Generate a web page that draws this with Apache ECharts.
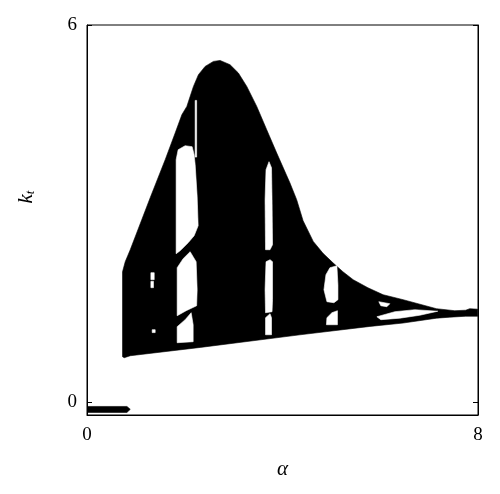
<!DOCTYPE html>
<html>
<head>
<meta charset="utf-8">
<script src="https://cdn.jsdelivr.net/npm/echarts@6/dist/echarts.min.js"></script>
<style>
html,body{margin:0;padding:0;background:#fff;}
#chart{width:500px;height:494px;}
</style>
</head>
<body>
<div id="chart"></div>
<script>
// Axis ticks
const xTicks = [0, 8];
const yTicks = [0, 6];

// Outline of the black (chaotic) region: [alpha, k]
const outline = [
  [0.727,0.727],[0.727,2.078],[0.782,2.237],[0.885,2.428],[1.293,3.254],[1.600,3.859],
  [1.804,4.283],[1.941,4.574],[2.043,4.706],[2.110,4.865],[2.178,5.024],[2.280,5.210],
  [2.417,5.342],[2.586,5.421],[2.723,5.437],[2.927,5.369],[3.097,5.237],[3.269,5.024],
  [3.473,4.706],[3.677,4.335],[3.882,3.965],[4.153,3.488],[4.290,3.223],[4.421,2.890],
  [4.629,2.560],[4.829,2.370],[5.038,2.216],[5.236,2.078],[5.446,1.951],[5.747,1.823],
  [6.059,1.712],[6.468,1.633],[7.150,1.490],[7.524,1.458],
  [7.749,1.466],[7.830,1.490],[7.994,1.482],
  [7.994,1.370],[7.749,1.370],[7.422,1.355],[7.150,1.339],[6.468,1.262],[5.788,1.208],
  [4.357,1.075],[2.315,0.874],[0.885,0.742],[0.762,0.711]
];

// Periodic windows (white holes): [alpha, k]
const holeD1 = [[1.307,2.062],[1.375,2.062],[1.375,1.951],[1.307,1.951]];
const holeD2 = [[1.307,1.925],[1.360,1.925],[1.360,1.824],[1.307,1.824]];
const holeD3 = [[1.334,1.156],[1.395,1.156],[1.395,1.110],[1.334,1.110]];
const holeA1 = [[1.824,3.859],[1.865,4.017],[2.008,4.081],[2.151,4.065],[2.192,3.938],[2.213,3.779],
  [2.254,3.270],[2.274,2.809],[2.192,2.650],[2.070,2.539],[1.906,2.412],[1.824,2.364]];
const holeA0 = [[2.213,4.801],[2.243,4.801],[2.243,3.900],[2.213,3.900]];
const holeA2 = [[1.845,2.141],[1.967,2.285],[2.110,2.396],[2.233,2.237],[2.254,1.792],[2.243,1.537],
  [2.029,1.458],[1.845,1.378]];
const holeA3 = [[1.845,1.204],[2.008,1.315],[2.131,1.426],[2.172,1.235],[2.172,0.965],[1.845,0.949]];
const holeB1 = [[3.663,3.700],[3.724,3.827],[3.775,3.731],[3.786,3.223],[3.796,2.507],[3.745,2.428],
  [3.653,2.428],[3.643,3.223]];
const holeB2 = [[3.663,2.237],[3.745,2.269],[3.796,2.237],[3.796,1.633],[3.786,1.442],[3.653,1.426],[3.643,1.792]];
const holeB3 = [[3.653,1.347],[3.745,1.410],[3.775,1.347],[3.775,1.076],[3.653,1.076]];
const holeC1 = [[4.889,2.030],[4.970,2.141],[5.113,2.173],[5.134,1.871],[5.134,1.633],[5.052,1.585],
  [4.909,1.601],[4.848,1.792]];
const holeC2 = [[4.909,1.347],[5.011,1.426],[5.124,1.458],[5.124,1.235],[4.899,1.235]];
const holeT1 = [[5.971,1.601],[6.196,1.569],[6.135,1.521],[6.012,1.537]];
const holeT2 = [[5.931,1.362],[6.298,1.442],[6.707,1.474],[7.177,1.450],[6.809,1.386],[6.400,1.339],[6.012,1.315]];

// Fixed point (k near 0) for small alpha, drawn as an arrow-like bar
const fixedBar = [[0,-0.064],[0.817,-0.064],[0.885,-0.11],[0.817,-0.159],[0,-0.159]];

const holes = [holeD1,holeD2,holeD3,holeA1,holeA0,holeA2,holeA3,holeB1,holeB2,holeB3,holeC1,holeC2,holeT1,holeT2];

function polySeries(pts, fill){
  return {
    type:'custom', coordinateSystem:'cartesian2d', silent:true, clip:true,
    data: pts,
    renderItem: function(params, api){
      if (params.dataIndex !== 0) return null;
      return {type:'polygon', shape:{points: pts.map(p => api.coord(p))},
              style:{fill: fill, stroke: fill, lineWidth: 0.6}};
    },
    animation:false
  };
}

const series = [polySeries(outline,'#000')].concat(holes.map(h => polySeries(h,'#fff')));
series.push(polySeries(fixedBar,'#000'));

const serif = '"Liberation Serif","DejaVu Serif",serif';
const chart = echarts.init(document.getElementById('chart'), null, {renderer:'canvas'});
chart.setOption({
  animation:false,
  backgroundColor:'#fff',
  grid:{left:87, right:22, top:25, bottom:79, show:true, borderColor:'#000', borderWidth:1},
  xAxis:[{
    type:'value', min:xTicks[0], max:xTicks[1], interval:8,
    axisLine:{show:true, onZero:false, lineStyle:{color:'#000', width:1}},
    axisTick:{show:false},
    splitLine:{show:false},
    axisLabel:{color:'#000', fontFamily:serif, fontSize:19, margin:11},
    name:'α', nameLocation:'middle', nameGap:44,
    nameTextStyle:{color:'#000', fontFamily:serif, fontSize:21, fontStyle:'italic'}
  }],
  yAxis:[{
    type:'value', min:-0.2, max:6,
    axisLine:{show:true, onZero:false, lineStyle:{color:'#000', width:1}},
    axisTick:{show:true, inside:true, length:5, customValues:yTicks, lineStyle:{color:'#000'}},
    splitLine:{show:false},
    axisLabel:{color:'#000', fontFamily:serif, fontSize:19, margin:10, customValues:yTicks},
    name:'{k|k}{t|t}', nameLocation:'middle', nameGap:50, nameRotate:90,
    nameTextStyle:{color:'#000', padding:[0,0,0,46], rich:{
      k:{fontFamily:serif, fontSize:21, fontStyle:'italic', color:'#000'},
      t:{fontFamily:serif, fontSize:13, fontStyle:'italic', color:'#000', padding:[9,0,0,0]}
    }}
  },{
    type:'value', min:-0.2, max:6, position:'right',
    axisLine:{show:true, onZero:false, lineStyle:{color:'#000', width:1}},
    axisTick:{show:true, inside:true, length:5, customValues:yTicks, lineStyle:{color:'#000'}},
    axisLabel:{show:false}, splitLine:{show:false}
  }],
  series: series
});
</script>
</body>
</html>
